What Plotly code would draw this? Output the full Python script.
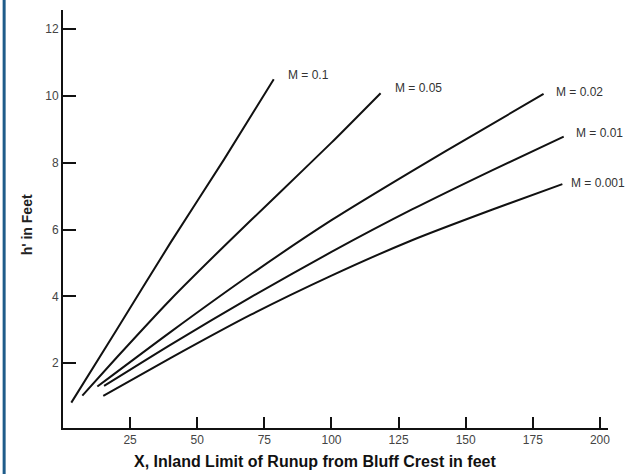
import plotly.graph_objects as go

# ---- data ----
m_labels = ["M = 0.1", "M = 0.05", "M = 0.02", "M = 0.01", "M = 0.001"]

x_m01 = [3.1, 20, 40, 60, 78.5]
y_m01 = [0.82, 3.0, 5.6, 8.1, 10.5]

x_m005 = [7.2, 20, 40, 60, 80, 100, 118.3]
y_m005 = [1.03, 2.17, 3.9, 5.5, 7.05, 8.6, 10.08]

x_m002 = [12.8, 40, 70, 100, 130, 155, 179]
y_m002 = [1.3, 2.93, 4.66, 6.28, 7.75, 8.93, 10.06]

x_m001 = [15.3, 40, 70, 100, 130, 160, 186.5]
y_m001 = [1.32, 2.55, 3.98, 5.33, 6.6, 7.78, 8.78]

x_m0001 = [15, 40, 70, 100, 130, 160, 186]
y_m0001 = [1.02, 2.15, 3.45, 4.62, 5.68, 6.6, 7.36]

# label anchor positions (data coords)
label_x = [83, 122.9, 182.8, 190.2, 188.4]
label_y = [10.63, 10.24, 10.12, 8.89, 7.4]

x_ticks = [25, 50, 75, 100, 125, 150, 175, 200]
y_ticks = [2, 4, 6, 8, 10, 12]

x_title = "X, Inland Limit of Runup from Bluff Crest in feet"
y_title = "h' in Feet"

series = [(x_m01, y_m01), (x_m005, y_m005), (x_m002, y_m002),
          (x_m001, y_m001), (x_m0001, y_m0001)]

FONT = "Liberation Sans, Arial, sans-serif"

fig = go.Figure()
for (xs, ys), name in zip(series, m_labels):
    fig.add_trace(go.Scatter(x=xs, y=ys, mode="lines", name=name,
                             line=dict(color="#111111", width=2, shape="spline", smoothing=0.6),
                             hoverinfo="skip", showlegend=False))

for lx, ly, txt in zip(label_x, label_y, m_labels):
    fig.add_annotation(x=lx, y=ly, xref="x", yref="y", text=txt, showarrow=False,
                       xanchor="left", yanchor="middle",
                       font=dict(family=FONT, size=12, color="#333333"))

fig.add_annotation(x=0.462, y=-0.08, xref="paper", yref="paper", text="<b>" + x_title + "</b>",
                   showarrow=False, xanchor="center", yanchor="middle",
                   font=dict(family=FONT, size=16, color="#111111"))
fig.add_annotation(x=-0.066, y=0.485, xref="paper", yref="paper", text="<b>" + y_title + "</b>",
                   showarrow=False, xanchor="center", yanchor="middle", textangle=-90,
                   font=dict(family=FONT, size=14, color="#222222"))

# left blue border of the original image
fig.add_shape(type="line", xref="paper", yref="paper", x0=-0.108, x1=-0.108, y0=-0.11, y1=1.03,
              line=dict(color="#1f5c8a", width=3))

fig.update_xaxes(range=[0, 203], tickvals=x_ticks, ticktext=[str(v) for v in x_ticks],
                 ticks="inside", ticklen=11, tickwidth=2, tickcolor="#111111",
                 showline=True, linewidth=2, linecolor="#111111",
                 showgrid=False, zeroline=False,
                 tickfont=dict(family=FONT, size=12, color="#444444"))
fig.update_yaxes(range=[0.06, 12.57], tickvals=y_ticks, ticktext=[str(v) for v in y_ticks],
                 ticks="inside", ticklen=13, tickwidth=2, tickcolor="#111111",
                 showline=True, linewidth=2, linecolor="#111111",
                 showgrid=False, zeroline=False,
                 tickfont=dict(family=FONT, size=12, color="#444444"))

fig.update_layout(width=634, height=474, margin=dict(l=63, r=26, t=10, b=46),
                  paper_bgcolor="white", plot_bgcolor="white")

fig.write_html("out.html")
